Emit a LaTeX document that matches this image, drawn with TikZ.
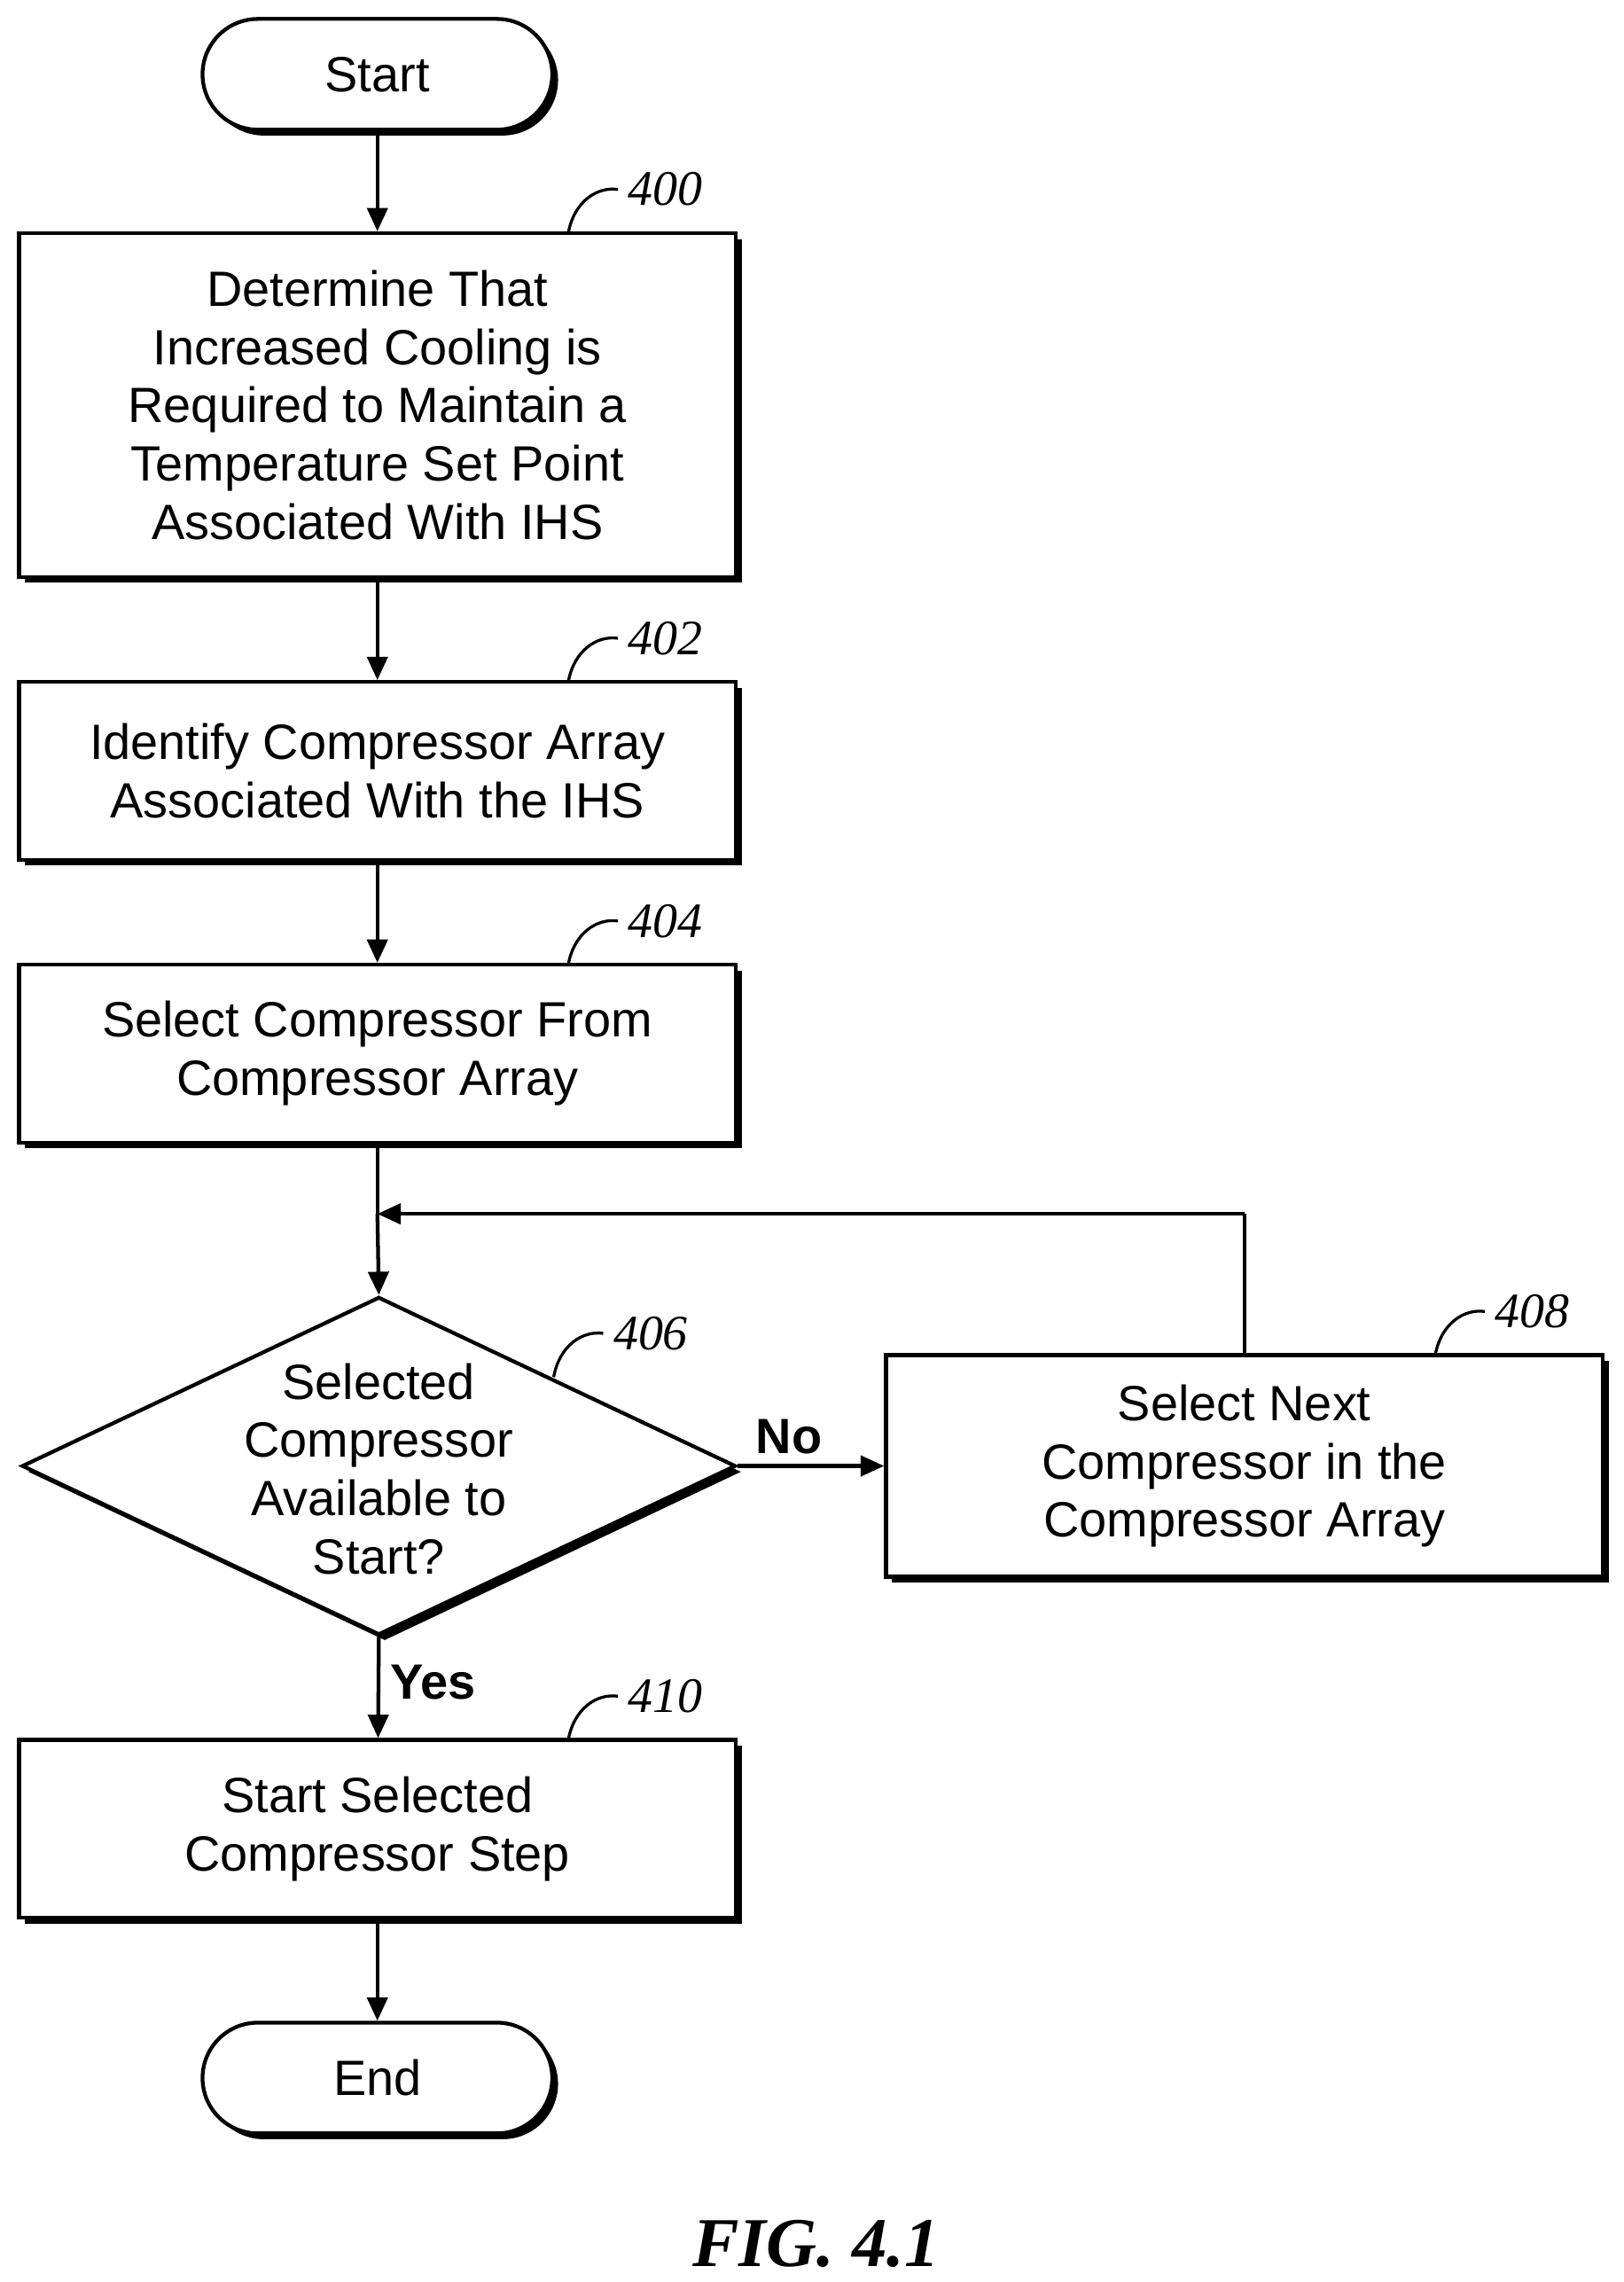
\documentclass[tikz,border=0pt]{standalone}
\usepackage{fontspec}
\setmainfont{Liberation Sans}
\newfontfamily\numfont{Liberation Serif}
\usetikzlibrary{shapes.geometric,arrows.meta}
\begin{document}
\begin{tikzpicture}[x=0.5pt,y=-0.5pt,
  shad/.style={preaction={fill=black,transform canvas={shift={(2pt,-2pt)}}}},
  box/.style={draw,line width=1.3pt,fill=white,shad,align=center,font=\fontsize{17}{20}\selectfont,inner sep=0pt},
  term/.style={box,rounded corners=19pt},
  arr/.style={line width=1.3pt,-{Triangle[length=8pt,width=7pt]}},
  num/.style={font=\numfont\itshape\fontsize{17}{20}\selectfont},
  lbl/.style={font=\bfseries\fontsize{17}{20}\selectfont}]
\useasboundingbox (0,0) rectangle (1114,1566);
\node[term,minimum width=120pt,minimum height=38pt] (start) at (259,51) {Start};
\node[box,minimum width=246pt,minimum height=118pt] (b400) at (259,278) {Determine That\\Increased Cooling is\\Required to Maintain a\\Temperature Set Point\\Associated With IHS};
\node[box,minimum width=246pt,minimum height=61pt] (b402) at (259,529) {Identify Compressor Array\\Associated With the IHS};
\node[box,minimum width=246pt,minimum height=61pt] (b404) at (259,723) {Select Compressor From\\Compressor Array};
\node[diamond,draw,line width=1.3pt,fill=white,shad,aspect=2.11,inner sep=0pt,minimum width=245pt,minimum height=116pt] (d406) at (260,1006) {};
\node[align=center,font=\fontsize{17}{20}\selectfont] at (260,1008) {Selected\\Compressor\\Available to\\Start?};
\node[box,minimum width=246pt,minimum height=76pt] (b408) at (854,1006) {Select Next\\Compressor in the\\Compressor Array};
\node[box,minimum width=246pt,minimum height=61pt] (b410) at (259,1255) {Start Selected\\Compressor Step};
\node[term,minimum width=120pt,minimum height=38pt] (end) at (259,1426) {End};
\coordinate (j) at (259,833);
\coordinate (c) at (854,833);
\draw[arr] (start) -- (b400);
\draw[arr] (b400) -- (b402);
\draw[arr] (b402) -- (b404);
\draw[line width=1.3pt] (b404) -- (j);
\draw[arr] (j) -- (d406.north);
\draw[arr] (d406.east) -- node[lbl,above,pos=0.35]{No} (b408);
\draw[line width=1.3pt] (b408) -- (c);
\draw[arr] (c) -- (j);
\draw[arr] (d406.south) -- node[lbl,right,pos=0.45]{Yes} (b410);
\draw[arr] (b410) -- (end);
\foreach \n/\x/\y in {400/390/160,402/390/468,404/390/662,406/380/945,408/985/930,410/390/1194}{
  \node[num,anchor=west] (n\n) at (\x+34,\y-30) {\n};
  \draw[line width=1pt] (\x,\y) .. controls (\x+4,\y-22) and (\x+20,\y-32) .. (n\n.west);
}
\node[font=\numfont\bfseries\itshape\fontsize{24}{28}\selectfont] (fig) at (560,1540) {FIG. 4.1};
\end{tikzpicture}
\end{document}
